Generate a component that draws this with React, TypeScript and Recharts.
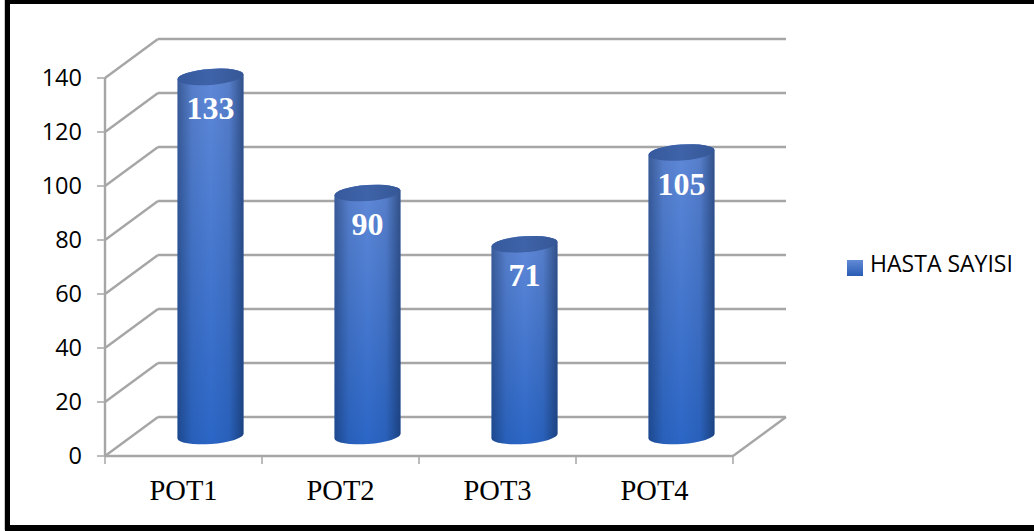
import { BarChart, Bar, XAxis, YAxis, CartesianGrid, Legend, LabelList } from 'recharts';

const categories = ['POT1', 'POT2', 'POT3', 'POT4'];
const hastaSayisi = [133, 90, 71, 105];
const yTicks = [0, 20, 40, 60, 80, 100, 120, 140];

const chartData = categories.map((name, i) => ({ name, value: hastaSayisi[i] }));

const WIDTH = 1034;
const HEIGHT = 531;
const PLOT_LEFT = 105;
const PLOT_RIGHT = 733;
const PLOT_TOP = 78;
const PLOT_BOTTOM = 456;
const BAND = (PLOT_RIGHT - PLOT_LEFT) / categories.length;

// fake 3D depth of the floor and the position of the bars on it
const DEPTH_X = 53;
const DEPTH_Y = 39;
const BAR_DX = 26.5;
const BAR_DY = -20;
const TILT = 2.4;
const RY = 8;

const GRID_COLOR = '#a6a6a6';
const GRID_WIDTH = 2.4;

const GridLine = (props: any) => {
    const { x1, x2, y1 } = props;
    return (
        <g key={props.key}>
            <line x1={x1 + DEPTH_X} x2={x2 + DEPTH_X} y1={y1 - DEPTH_Y} y2={y1 - DEPTH_Y} stroke={GRID_COLOR} strokeWidth={GRID_WIDTH} />
            <line x1={x1} x2={x1 + DEPTH_X} y1={y1} y2={y1 - DEPTH_Y} stroke={GRID_COLOR} strokeWidth={GRID_WIDTH} />
            {Math.abs(y1 - PLOT_BOTTOM) < 1 && (
                <line x1={x2} x2={x2 + DEPTH_X} y1={y1} y2={y1 - DEPTH_Y} stroke={GRID_COLOR} strokeWidth={GRID_WIDTH} />
            )}
        </g>
    );
};

const Cylinder = (props: any) => {
    const { x, y, width, height } = props;
    const rx = width / 2;
    const cx = x + rx + BAR_DX;
    const top = y + BAR_DY;
    const base = y + height + BAR_DY;
    const angle = (Math.atan2(-TILT * 2, width) * 180) / Math.PI;
    const body =
        `M${cx - rx},${top + TILT} L${cx - rx},${base + TILT} ` +
        `A${rx},${RY} ${angle} 0 0 ${cx + rx},${base - TILT} ` +
        `L${cx + rx},${top - TILT} ` +
        `A${rx},${RY} ${angle} 0 0 ${cx - rx},${top + TILT} Z`;
    return (
        <g>
            <path d={body} fill="url(#cylBody)" />
            <path d={body} fill="url(#cylShade)" />
            <ellipse cx={cx} cy={top} rx={rx} ry={RY} fill="url(#cylTop)" transform={`rotate(${angle} ${cx} ${top})`} />
        </g>
    );
};

const ValueLabel = (props: any) => {
    const { x, y, width, value } = props;
    return (
        <text
            x={x + width / 2 + BAR_DX}
            y={y + BAR_DY + 31}
            textAnchor="middle"
            dominantBaseline="central"
            fill="#ffffff"
            fontFamily="'Liberation Serif'"
            fontWeight="bold"
            fontSize={32}
        >
            {value}
        </text>
    );
};

// category name in the band centre, tick marks on the band edges
const CategoryTick = (props: any) => {
    const { x, y, index, payload } = props;
    return (
        <g>
            <line x1={x - BAND / 2} x2={x - BAND / 2} y1={PLOT_BOTTOM} y2={PLOT_BOTTOM + 8} stroke={GRID_COLOR} strokeWidth={1.5} />
            {index === categories.length - 1 && (
                <line x1={x + BAND / 2} x2={x + BAND / 2} y1={PLOT_BOTTOM} y2={PLOT_BOTTOM + 8} stroke={GRID_COLOR} strokeWidth={1.5} />
            )}
            <text x={x} y={y + 36} textAnchor="middle" fill="#000000" fontFamily="'Liberation Serif'" fontSize={28.5}>
                {payload.value}
            </text>
        </g>
    );
};

export default function App() {
    return (
        <div style={{ position: 'absolute', left: 0, top: 0, width: WIDTH, height: HEIGHT, background: '#ffffff', overflow: 'hidden' }}>
            <BarChart
                width={WIDTH}
                height={HEIGHT}
                data={chartData}
                barCategoryGap={0}
                barSize={66}
                margin={{ left: PLOT_LEFT - 70, right: WIDTH - PLOT_RIGHT, top: PLOT_TOP, bottom: HEIGHT - PLOT_BOTTOM - 40 }}
            >
                <defs>
                    <linearGradient id="cylBody" x1="0" y1="0" x2="0" y2="1">
                        <stop offset="0%" stopColor="#6089d8" />
                        <stop offset="100%" stopColor="#2b66c6" />
                    </linearGradient>
                    <linearGradient id="cylShade" x1="0" y1="0" x2="1" y2="0">
                        <stop offset="0%" stopColor="#0d2347" stopOpacity={0.45} />
                        <stop offset="22%" stopColor="#0d2347" stopOpacity={0.1} />
                        <stop offset="50%" stopColor="#0d2347" stopOpacity={0} />
                        <stop offset="78%" stopColor="#0d2347" stopOpacity={0.1} />
                        <stop offset="100%" stopColor="#0d2347" stopOpacity={0.55} />
                    </linearGradient>
                    <linearGradient id="cylTop" x1="0" y1="0" x2="1" y2="0">
                        <stop offset="0%" stopColor="#375a9e" />
                        <stop offset="50%" stopColor="#3f63a8" />
                        <stop offset="100%" stopColor="#355797" />
                    </linearGradient>
                    <linearGradient id="legendSwatch" x1="0" y1="0" x2="0" y2="1">
                        <stop offset="0%" stopColor="#628ad6" />
                        <stop offset="100%" stopColor="#2a5cb4" />
                    </linearGradient>
                </defs>
                <CartesianGrid horizontal={GridLine} vertical={false} />
                <XAxis
                    dataKey="name"
                    height={40}
                    axisLine={{ stroke: GRID_COLOR, strokeWidth: GRID_WIDTH }}
                    tickLine={false}
                    tick={CategoryTick}
                    interval={0}
                />
                <YAxis
                    width={70}
                    domain={[0, 140]}
                    ticks={yTicks}
                    interval={0}
                    axisLine={{ stroke: GRID_COLOR, strokeWidth: GRID_WIDTH }}
                    tickLine={{ stroke: GRID_COLOR, strokeWidth: 1.5 }}
                    tickSize={8}
                    tickMargin={15}
                    tick={{ fill: '#000000', fontFamily: "'Open Sans'", fontSize: 23.5 }}
                />
                <Legend
                    layout="horizontal"
                    verticalAlign="middle"
                    align="center"
                    iconType="square"
                    iconSize={16}
                    wrapperStyle={{ left: 845, top: 247, width: 180, margin: 0, padding: 0 }}
                    formatter={(value: string) => (
                        <span style={{ color: '#000000', fontFamily: "'Open Sans'", fontSize: 23, marginLeft: 3, whiteSpace: 'nowrap' }}>{value}</span>
                    )}
                />
                <Bar dataKey="value" name="HASTA SAYISI" fill="url(#legendSwatch)" shape={Cylinder} isAnimationActive={false}>
                    <LabelList dataKey="value" content={ValueLabel} />
                </Bar>
            </BarChart>
            {/* black frame: open on the right, cut off at the edge */}
            <div style={{ position: 'absolute', left: 5, top: 0, width: WIDTH - 5, height: 4, background: '#000000' }} />
            <div style={{ position: 'absolute', left: 5, top: 0, width: 5, height: 530, background: '#000000', boxShadow: '-1px 0 0 #c8c8c8' }} />
            <div style={{ position: 'absolute', left: 5, top: 525, width: WIDTH - 5, height: 6, background: '#000000' }} />
        </div>
    );
}
